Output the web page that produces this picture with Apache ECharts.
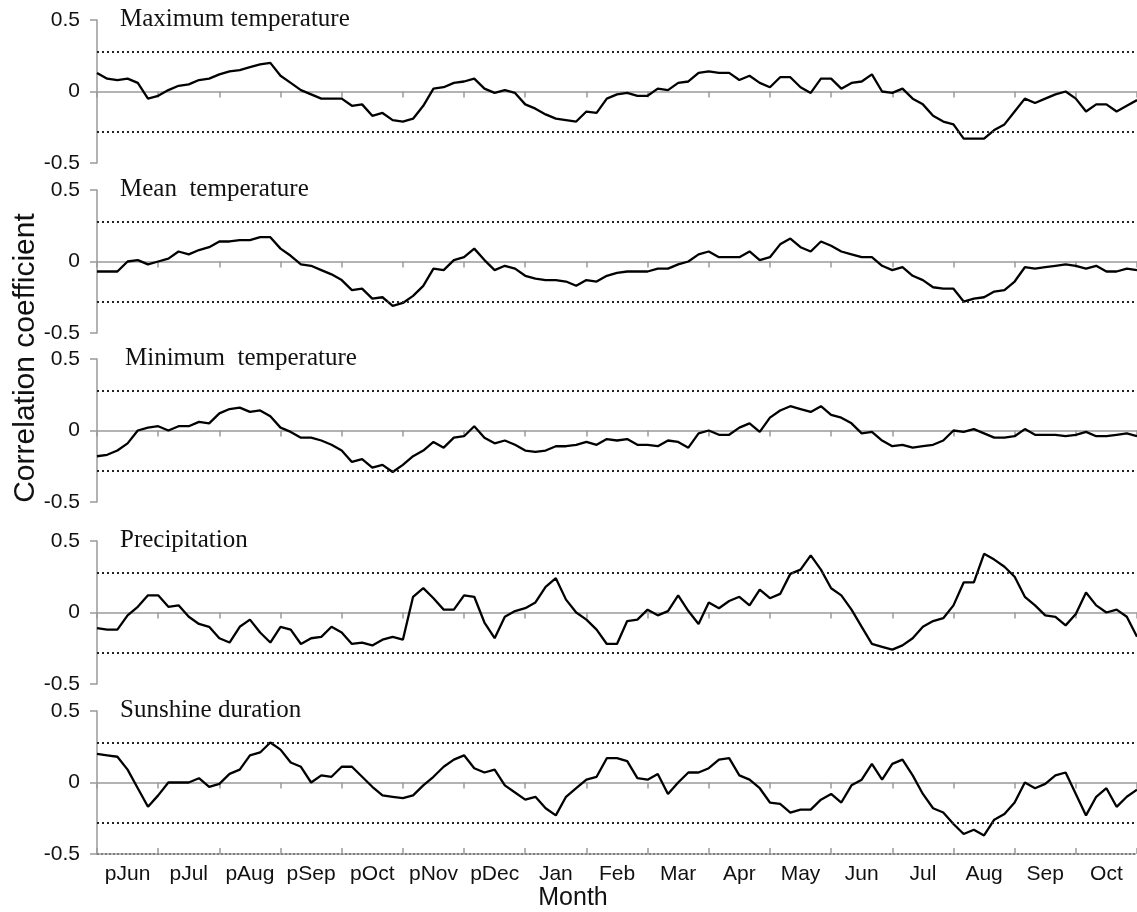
<!DOCTYPE html>
<html>
<head>
<meta charset="utf-8">
<script src="https://cdn.jsdelivr.net/npm/echarts@6/dist/echarts.min.js"></script>
<style>
  html, body { margin: 0; padding: 0; background: #fff; }
  #chart { width: 1137px; height: 912px; }
</style>
</head>
<body>
<div id="chart"></div>
<script>
// month labels along the bottom axis
const months = ['pJun', 'pJul', 'pAug', 'pSep', 'pOct', 'pNov', 'pDec', 'Jan', 'Feb', 'Mar', 'Apr', 'May', 'Jun', 'Jul', 'Aug', 'Sep', 'Oct'];
const panelNames = ['Maximum temperature', 'Mean  temperature', 'Minimum  temperature', 'Precipitation', 'Sunshine duration'];
const yTicks = [-0.5, 0, 0.5];
// significance level (dotted lines)
const threshold = 0.28;
// values, 6 samples per month
const samplesPerMonth = 6;

const maxTemp = [
  0.13, 0.09, 0.08, 0.09, 0.06, -0.05, -0.03, 0.01, 0.04, 0.05,
  0.08, 0.09, 0.12, 0.14, 0.15, 0.17, 0.19, 0.20, 0.11, 0.06,
  0.01, -0.02, -0.05, -0.05, -0.05, -0.10, -0.09, -0.17, -0.15, -0.20,
  -0.21, -0.19, -0.10, 0.02, 0.03, 0.06, 0.07, 0.09, 0.02, -0.01,
  0.01, -0.01, -0.09, -0.12, -0.16, -0.19, -0.20, -0.21, -0.14, -0.15,
  -0.05, -0.02, -0.01, -0.03, -0.03, 0.02, 0.01, 0.06, 0.07, 0.13,
  0.14, 0.13, 0.13, 0.08, 0.11, 0.06, 0.03, 0.10, 0.10, 0.03,
  -0.01, 0.09, 0.09, 0.02, 0.06, 0.07, 0.12, 0.00, -0.01, 0.02,
  -0.05, -0.09, -0.17, -0.21, -0.23, -0.33, -0.33, -0.33, -0.27, -0.23,
  -0.14, -0.05, -0.08, -0.05, -0.02, 0.00, -0.05, -0.14, -0.09, -0.09,
  -0.14, -0.10, -0.06
];
const meanTemp = [
  -0.07, -0.07, -0.07, 0.00, 0.01, -0.02, 0.00, 0.02, 0.07, 0.05,
  0.08, 0.10, 0.14, 0.14, 0.15, 0.15, 0.17, 0.17, 0.09, 0.04,
  -0.02, -0.03, -0.06, -0.09, -0.13, -0.20, -0.19, -0.26, -0.25, -0.31,
  -0.29, -0.24, -0.17, -0.05, -0.06, 0.01, 0.03, 0.09, 0.01, -0.06,
  -0.03, -0.05, -0.10, -0.12, -0.13, -0.13, -0.14, -0.17, -0.13, -0.14,
  -0.10, -0.08, -0.07, -0.07, -0.07, -0.05, -0.05, -0.02, 0.00, 0.05,
  0.07, 0.03, 0.03, 0.03, 0.07, 0.01, 0.03, 0.12, 0.16, 0.10,
  0.07, 0.14, 0.11, 0.07, 0.05, 0.03, 0.03, -0.03, -0.06, -0.04,
  -0.10, -0.13, -0.18, -0.19, -0.19, -0.28, -0.26, -0.25, -0.21, -0.20,
  -0.14, -0.04, -0.05, -0.04, -0.03, -0.02, -0.03, -0.05, -0.03, -0.07,
  -0.07, -0.05, -0.06
];
const minTemp = [
  -0.18, -0.17, -0.14, -0.09, 0.00, 0.02, 0.03, 0.00, 0.03, 0.03,
  0.06, 0.05, 0.12, 0.15, 0.16, 0.13, 0.14, 0.10, 0.02, -0.01,
  -0.05, -0.05, -0.07, -0.10, -0.14, -0.22, -0.20, -0.26, -0.24, -0.29,
  -0.24, -0.18, -0.14, -0.08, -0.12, -0.05, -0.04, 0.03, -0.05, -0.09,
  -0.07, -0.10, -0.14, -0.15, -0.14, -0.11, -0.11, -0.10, -0.08, -0.10,
  -0.06, -0.07, -0.06, -0.10, -0.10, -0.11, -0.07, -0.08, -0.12, -0.02,
  0.00, -0.03, -0.03, 0.02, 0.05, -0.01, 0.09, 0.14, 0.17, 0.15,
  0.13, 0.17, 0.11, 0.09, 0.05, -0.02, -0.01, -0.07, -0.11, -0.10,
  -0.12, -0.11, -0.10, -0.07, 0.00, -0.01, 0.01, -0.02, -0.05, -0.05,
  -0.04, 0.01, -0.03, -0.03, -0.03, -0.04, -0.03, -0.01, -0.04, -0.04,
  -0.03, -0.02, -0.04
];
const precip = [
  -0.11, -0.12, -0.12, -0.02, 0.04, 0.12, 0.12, 0.04, 0.05, -0.03,
  -0.08, -0.10, -0.18, -0.21, -0.10, -0.05, -0.14, -0.21, -0.10, -0.12,
  -0.22, -0.18, -0.17, -0.10, -0.14, -0.22, -0.21, -0.23, -0.19, -0.17,
  -0.19, 0.11, 0.17, 0.10, 0.02, 0.02, 0.12, 0.11, -0.07, -0.18,
  -0.03, 0.01, 0.03, 0.07, 0.18, 0.24, 0.09, 0.00, -0.05, -0.12,
  -0.22, -0.22, -0.06, -0.05, 0.02, -0.02, 0.01, 0.12, 0.01, -0.08,
  0.07, 0.03, 0.08, 0.11, 0.05, 0.16, 0.10, 0.13, 0.27, 0.30,
  0.40, 0.30, 0.17, 0.12, 0.02, -0.10, -0.22, -0.24, -0.26, -0.23,
  -0.18, -0.10, -0.06, -0.04, 0.05, 0.21, 0.21, 0.41, 0.37, 0.32,
  0.25, 0.11, 0.05, -0.02, -0.03, -0.09, -0.01, 0.14, 0.05, 0.00,
  0.02, -0.03, -0.17
];
const sunshine = [
  0.20, 0.19, 0.18, 0.09, -0.04, -0.17, -0.09, 0.00, 0.00, 0.00,
  0.03, -0.03, -0.01, 0.06, 0.09, 0.19, 0.21, 0.28, 0.23, 0.14,
  0.11, 0.00, 0.05, 0.04, 0.11, 0.11, 0.04, -0.03, -0.09, -0.10,
  -0.11, -0.09, -0.02, 0.04, 0.11, 0.16, 0.19, 0.10, 0.07, 0.09,
  -0.02, -0.07, -0.12, -0.10, -0.18, -0.23, -0.10, -0.04, 0.02, 0.04,
  0.17, 0.17, 0.15, 0.03, 0.02, 0.06, -0.08, 0.00, 0.07, 0.07,
  0.10, 0.16, 0.17, 0.05, 0.02, -0.04, -0.14, -0.15, -0.21, -0.19,
  -0.19, -0.12, -0.08, -0.14, -0.02, 0.02, 0.13, 0.02, 0.13, 0.16,
  0.05, -0.08, -0.18, -0.21, -0.29, -0.36, -0.33, -0.37, -0.26, -0.22,
  -0.14, 0.00, -0.04, -0.01, 0.05, 0.07, -0.08, -0.23, -0.10, -0.04,
  -0.17, -0.10, -0.05
];
const panelSeries = [maxTemp, meanTemp, minTemp, precip, sunshine];

// layout
const panelTops = [20, 190, 359, 541, 711];
const panelHeight = 143;
const gridLeft = 97;
const gridWidth = 1040;
const sans = '"Liberation Sans", Arial, sans-serif';
const serif = '"Liberation Serif", "Times New Roman", serif';
const axisGray = '#9a9a9a';

const chart = echarts.init(document.getElementById('chart'));

const grid = panelTops.map(top => ({ left: gridLeft, top, width: gridWidth, height: panelHeight }));

// zero line of each panel carries the month ticks
const xAxis = panelTops.map((t, i) => ({
  gridIndex: i,
  type: 'value',
  min: 0,
  max: months.length,
  interval: 1,
  axisLine: { show: true, onZero: true, lineStyle: { color: axisGray, width: 1.5 } },
  axisTick: { show: true, length: 6, lineStyle: { color: axisGray, width: 1.5 } },
  axisLabel: { show: false },
  splitLine: { show: false }
}));
// bottom frame of the last panel
xAxis.push({
  gridIndex: 4,
  type: 'value',
  min: 0,
  max: months.length,
  interval: 1,
  position: 'bottom',
  axisLine: { show: true, onZero: false, lineStyle: { color: '#555', width: 1.5, type: [2, 2] } },
  axisTick: { show: true, inside: true, length: 6, lineStyle: { color: axisGray, width: 1.5 } },
  axisLabel: { show: false },
  splitLine: { show: false }
});
// month names, centred in each month
xAxis.push({
  gridIndex: 4,
  type: 'category',
  data: months,
  position: 'bottom',
  boundaryGap: true,
  axisLine: { show: false, onZero: false },
  axisTick: { show: false },
  axisLabel: { interval: 0, fontSize: 21, fontFamily: sans, color: '#111', margin: 10 },
  splitLine: { show: false }
});

const yAxis = panelTops.map((t, i) => ({
  gridIndex: i,
  type: 'value',
  min: yTicks[0],
  max: yTicks[yTicks.length - 1],
  interval: 0.5,
  axisLine: { show: true, onZero: false, lineStyle: { color: axisGray, width: 1.5 } },
  axisTick: { show: true, length: 7, lineStyle: { color: axisGray, width: 1.5 } },
  axisLabel: { fontSize: 21, fontFamily: sans, color: '#111', margin: 17 },
  splitLine: { show: false }
}));

const series = panelSeries.map((values, i) => ({
  type: 'line',
  xAxisIndex: i,
  yAxisIndex: i,
  showSymbol: false,
  data: values.map((v, k) => [k / samplesPerMonth, v]),
  lineStyle: { color: '#000', width: 2.3 },
  markLine: {
    silent: true,
    symbol: ['none', 'none'],
    label: { show: false },
    lineStyle: { color: '#222', width: 1.8, type: [2, 3] },
    data: [{ yAxis: threshold }, { yAxis: -threshold }]
  }
}));

const graphic = panelNames.map((name, i) => ({
  type: 'text',
  x: i === 2 ? 125 : 120,
  y: panelTops[i] - 1,
  style: { text: name, font: '25px ' + serif, fill: '#111', verticalAlign: 'middle' }
}));
graphic.push({
  type: 'text',
  x: 26,
  y: 358,
  rotation: Math.PI / 2,
  style: { text: 'Correlation coefficient', font: '30px ' + sans, fill: '#111', align: 'center', verticalAlign: 'middle' }
});
graphic.push({
  type: 'text',
  x: 573,
  y: 898,
  style: { text: 'Month', font: '25px ' + sans, fill: '#111', align: 'center', verticalAlign: 'middle' }
});

chart.setOption({
  animation: false,
  backgroundColor: '#fff',
  grid,
  xAxis,
  yAxis,
  series,
  graphic
});
</script>
</body>
</html>
